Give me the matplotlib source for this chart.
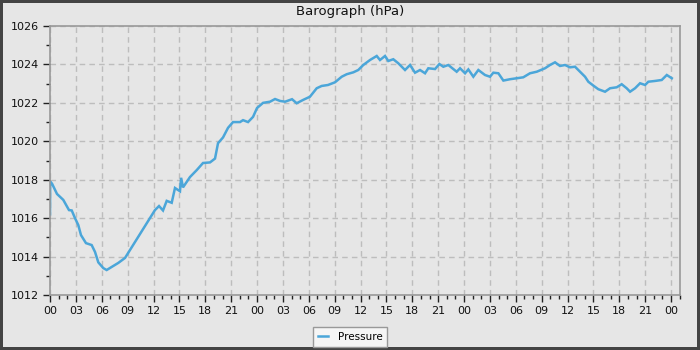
import matplotlib
matplotlib.use('Agg')
import matplotlib.pyplot as plt
from matplotlib.ticker import MultipleLocator, FuncFormatter

# ---- data (hours since start, hPa) ----
hours = [0, 0.02, 0.23, 0.81, 1.54, 2.2, 2.52, 2.9, 3.28, 3.59, 4.17, 4.83,
         5.22, 5.6, 6.18, 6.57, 7.15, 7.92, 8.7, 12.17, 12.64, 13.1, 13.53,
         14.11, 14.49, 15.07, 15.2, 15.42, 16.23, 17.01, 17.74, 18.55, 19.13,
         19.48, 20.06, 20.64, 21.22, 22.03, 22.38, 22.96, 23.54, 24.0, 24.7,
         25.51, 26.09, 26.67, 27.25, 28.06, 28.6, 29.33, 30.14, 30.92, 31.5,
         32.23, 33.04, 33.82, 34.4, 35.17, 35.74, 36.32, 37.1, 37.88, 38.26,
         38.84, 39.22, 39.8, 40.38, 40.58, 41.16, 41.74, 42.32, 42.9, 43.48,
         43.86, 44.64, 45.14, 45.6, 46.18, 46.76, 47.15, 47.54, 48.12, 48.5,
         49.08, 49.66, 50.43, 51.01, 51.4, 51.98, 52.56, 53.33, 54.11, 54.87,
         55.65, 56.43, 57.39, 57.97, 58.55, 59.13, 59.71, 60.29, 60.87, 61.45,
         62.03, 62.41, 62.99, 63.57, 64.35, 64.93, 65.7, 66.28, 66.86, 67.25,
         67.83, 68.41, 68.99, 69.37, 70.14, 70.92, 71.51, 72.09]
pressure = [1016.2, 1017.9, 1017.8, 1017.26, 1016.95, 1016.42, 1016.4, 1016.0,
            1015.64, 1015.12, 1014.7, 1014.6, 1014.24, 1013.7, 1013.4, 1013.3,
            1013.46, 1013.67, 1013.93, 1016.42, 1016.63, 1016.4, 1016.9,
            1016.8, 1017.57, 1017.4, 1018.1, 1017.6, 1018.14, 1018.5, 1018.87,
            1018.9, 1019.1, 1019.9, 1020.2, 1020.7, 1021.0, 1021.0, 1021.1,
            1021.0, 1021.27, 1021.73, 1022.0, 1022.06, 1022.2, 1022.1, 1022.06,
            1022.19, 1021.98, 1022.15, 1022.32, 1022.76, 1022.88, 1022.93,
            1023.07, 1023.36, 1023.49, 1023.59, 1023.71, 1023.97, 1024.23,
            1024.44, 1024.23, 1024.44, 1024.18, 1024.27, 1024.06, 1023.97,
            1023.71, 1023.97, 1023.57, 1023.71, 1023.54, 1023.8, 1023.76,
            1024.02, 1023.88, 1023.97, 1023.76, 1023.62, 1023.8, 1023.54,
            1023.74, 1023.36, 1023.71, 1023.45, 1023.36, 1023.57, 1023.54,
            1023.16, 1023.23, 1023.28, 1023.33, 1023.54, 1023.62, 1023.8,
            1023.97, 1024.11, 1023.92, 1023.97, 1023.85, 1023.88, 1023.62,
            1023.36, 1023.1, 1022.9, 1022.71, 1022.58, 1022.76, 1022.81,
            1022.97, 1022.76, 1022.58, 1022.76, 1023.02, 1022.93, 1023.1,
            1023.14, 1023.19, 1023.45, 1023.28]

bg = '#e6e6e6'
line_col = '#4ba6d9'

fig = plt.figure(figsize=(7, 3.5), dpi=100, facecolor=bg,
                 edgecolor='#444444', linewidth=3)
ax = fig.add_axes([50/700, 1 - 295/350, 630/700, 269/350], facecolor=bg)

ax.plot(hours, pressure, color=line_col, linewidth=1.8, label='Pressure',
        solid_joinstyle='miter')

ax.set_xlim(0, 73.04)
ax.set_ylim(1012, 1026)

ax.xaxis.set_major_locator(MultipleLocator(3))
ax.xaxis.set_minor_locator(MultipleLocator(1))
ax.xaxis.set_major_formatter(FuncFormatter(lambda v, p: '%02d' % (int(round(v)) % 24)))
ax.yaxis.set_major_locator(MultipleLocator(2))
ax.yaxis.set_minor_locator(MultipleLocator(1))

ax.tick_params(which='major', length=5, width=1, color='#222222',
               labelsize=8, labelcolor='#111111', pad=3)
ax.tick_params(which='minor', length=3, width=1, color='#222222')

ax.grid(True, which='major', linestyle=(0, (4, 3)), color='#bdbdbd', linewidth=1)
ax.set_axisbelow(True)
for s in ax.spines.values():
    s.set_color('#999999')
    s.set_linewidth(1.2)

fig.text(0.5, 1 - 12/350, 'Barograph (hPa)', ha='center', va='center',
         fontsize=9.5, color='#111111')

leg = fig.legend(loc='center', bbox_to_anchor=(350/700, 1 - 337/350),
                 fontsize=7.5, frameon=True, fancybox=False, handlelength=1.0,
                 borderpad=0.5, handletextpad=0.9)
leg.get_frame().set_facecolor('#f5f5f5')
leg.get_frame().set_edgecolor('#999999')
leg.get_frame().set_alpha(1)

fig.savefig('out.png', dpi=100, facecolor=bg, edgecolor='#444444')
